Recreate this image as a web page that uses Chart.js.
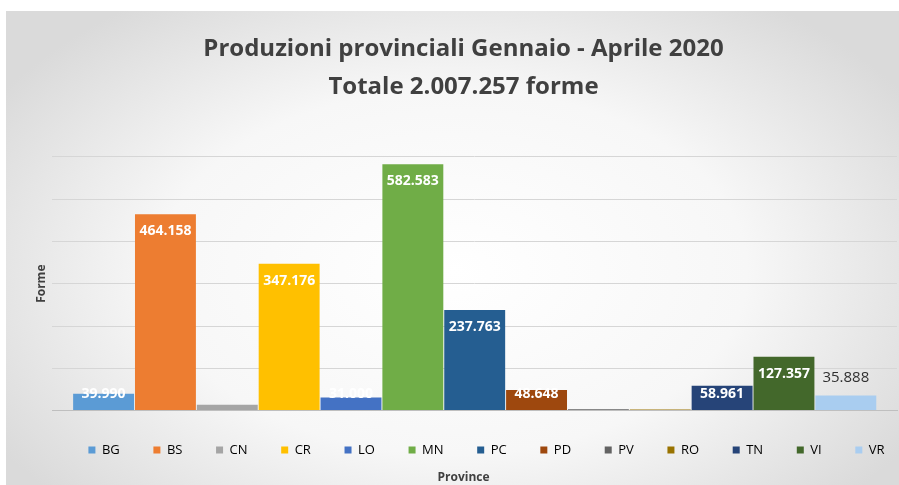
<!DOCTYPE html>
<html>
<head>
<meta charset="utf-8">
<script src="https://cdn.jsdelivr.net/npm/chart.js@4.4.1/dist/chart.umd.min.js"></script>
<style>
  html, body { margin: 0; padding: 0; background: #fff; }
  #panel {
    position: absolute; left: 6px; top: 11px; width: 893px; height: 474px;
    background: radial-gradient(ellipse 60% 70% at 50% 55%, #ffffff 0%, #f7f7f7 55%, #dadada 100%);
  }
  canvas { display: block; }
</style>
</head>
<body>
<div id="panel"><canvas id="provChart" width="893" height="474"></canvas></div>
<script>
// province codes, in legend order
const provinces = ["BG", "BS", "CN", "CR", "LO", "MN", "PC", "PD", "PV", "RO", "TN", "VI", "VR"];
// forme produced Jan - Apr 2020
const forme = [39990, 464158, 14000, 347176, 31000, 582583, 237763, 48648, 3000, 2500, 58961, 127357, 35888];
const barColors = ["#5B9BD5", "#ED7D31", "#A5A5A5", "#FFC000", "#4472C4", "#70AD47", "#255E91",
                   "#9E480E", "#636363", "#997300", "#264478", "#43682B", "#A9CDF0"];
const titleLines = ["Produzioni provinciali Gennaio - Aprile 2020", "Totale 2.007.257 forme"];

const FONT = "'Open Sans', 'DejaVu Sans', sans-serif";

// 1234567 -> "1.234.567"
const fmt = (v) => String(v).replace(/\B(?=(\d{3})+(?!\d))/g, ".");

// draws the value labels like excel's "inside end"
const valueLabels = {
  id: "valueLabels",
  afterDatasetsDraw(chart) {
    const ctx = chart.ctx;
    ctx.save();
    ctx.textAlign = "center";
    ctx.textBaseline = "middle";
    chart.data.datasets.forEach((ds, i) => {
      const bar = chart.getDatasetMeta(i).data[0];
      const v = ds.data[0];
      if (!bar || v < 20000) return;
      if (i === provinces.length - 1) {
        // light bar -> dark label above it
        ctx.font = "15px " + FONT;
        ctx.fillStyle = "#303030";
        ctx.fillText(fmt(v), bar.x, bar.y - 18);
      } else {
        ctx.font = "bold 14px " + FONT;
        ctx.fillStyle = "#ffffff";
        // short bars: label sits on the baseline
        ctx.fillText(fmt(v), bar.x, Math.min(bar.y + 17, bar.base - 16));
      }
    });
    ctx.restore();
  }
};

// excel centres the legend a bit to the right of the canvas middle
const legendShift = {
  id: "legendShift",
  afterLayout(chart) {
    chart.legend.left += 23;
    chart.legend.right += 23;
  }
};

const datasets = provinces.map((p, i) => ({
  label: p,
  data: [forme[i]],
  backgroundColor: barColors[i],
  borderWidth: 0,
  barPercentage: 0.985,
  categoryPercentage: 0.952,
}));

new Chart(document.getElementById("provChart"), {
  type: "bar",
  data: { labels: [""], datasets: datasets },
  options: {
    responsive: false,
    animation: false,
    layout: { padding: { top: 8, left: 24, right: 2, bottom: 0 } },
    plugins: {
      title: {
        display: true,
        text: titleLines,
        color: "#404040",
        font: { family: FONT, size: 24, weight: "bold", lineHeight: 1.6 },
        padding: { top: 11, bottom: 50 },
      },
      subtitle: {
        display: true,
        position: "bottom",
        text: "Province",
        color: "#404040",
        font: { family: FONT, size: 12, weight: "bold" },
        padding: { top: 4, bottom: 0 },
      },
      legend: {
        display: true,
        position: "bottom",
        labels: {
          color: "#595959",
          font: { family: FONT, size: 13 },
          boxWidth: 7,
          boxHeight: 7,
          padding: 10,
          // trailing spaces keep the entries evenly spread like excel's legend
          generateLabels: (chart) => chart.data.datasets.map((ds, i) => ({
            text: i < provinces.length - 1 ? ds.label + "       " : ds.label,
            fillStyle: ds.backgroundColor,
            strokeStyle: ds.backgroundColor,
            lineWidth: 0,
            hidden: false,
            datasetIndex: i,
          })),
        },
      },
      tooltip: { enabled: false },
    },
    scales: {
      x: {
        grid: { display: false, drawTicks: false },
        border: { display: true, color: "#bfbfbf", width: 1 },
        ticks: { display: false },
        afterFit: (axis) => { axis.height = 23; },
      },
      y: {
        min: 0,
        max: 600000,
        ticks: { display: false, stepSize: 100000 },
        grid: { color: "#d6d6d6", drawTicks: false },
        border: { display: false },
        title: {
          display: true,
          text: "Forme",
          color: "#404040",
          font: { family: FONT, size: 12, weight: "bold" },
          padding: 4,
        },
      },
    },
  },
  plugins: [valueLabels, legendShift],
});
</script>
</body>
</html>
